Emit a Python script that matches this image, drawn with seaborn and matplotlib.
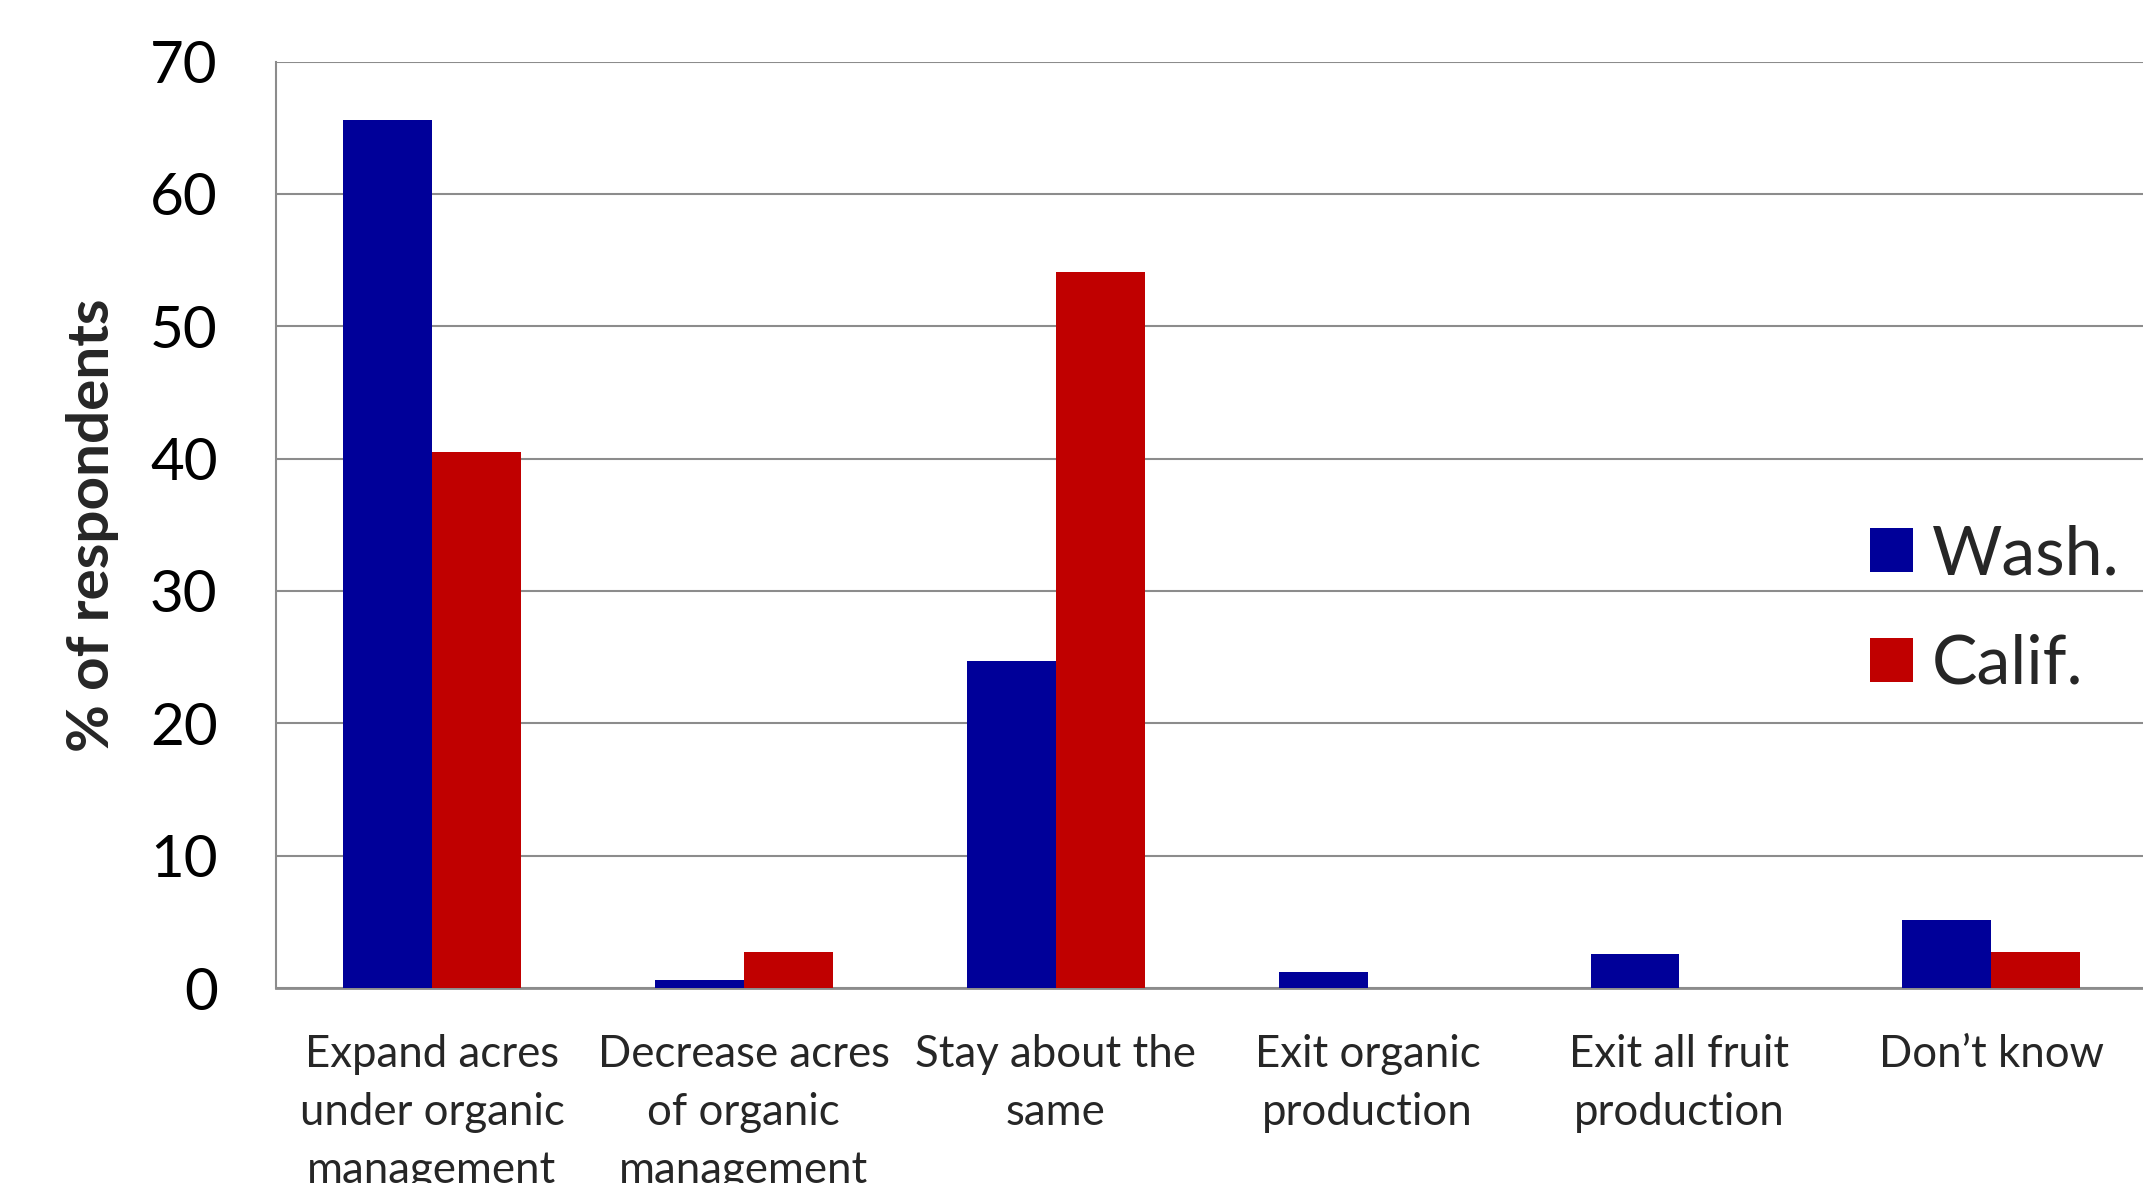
import matplotlib
matplotlib.use("Agg")
import matplotlib.pyplot as plt
from matplotlib.ticker import FixedLocator, MultipleLocator
from matplotlib.patches import Patch
import seaborn as sns
import pandas as pd

categories = [
    "Expand acres\nunder organic\nmanagement",
    "Decrease acres\nof organic\nmanagement",
    "Stay about the\nsame",
    "Exit organic\nproduction",
    "Exit all fruit\nproduction",
    "Don\u2019t know",
]
wash = [65.6, 0.6, 24.7, 1.2, 2.6, 5.1]
calif = [40.5, 2.7, 54.1, 0.0, 0.0, 2.7]
series = ["Wash.", "Calif."]
colors = {"Wash.": "#000099", "Calif.": "#C00000"}

df = pd.DataFrame({
    "category": categories * 2,
    "state": ["Wash."] * len(categories) + ["Calif."] * len(categories),
    "pct": wash + calif,
})

sns.set_style("white")
plt.rcParams["font.family"] = ["Lato", "DejaVu Sans"]

fig = plt.figure(figsize=(21.43, 11.83), dpi=100)
ax = fig.add_axes([276 / 2143, 1 - 988 / 1183, 1 - 276 / 2143 + 0.002, (988 - 61.5) / 1183])

sns.barplot(data=df, x="category", y="pct", hue="state", order=categories,
            hue_order=series, palette=colors, width=0.57, saturation=1,
            linewidth=0, ax=ax, legend=False, zorder=3)

grid_c = "#8c8c8c"
ax.set_ylim(0, 70)
ax.set_xlim(-0.5, len(categories) - 0.5)
ax.yaxis.set_major_locator(MultipleLocator(10))
ax.grid(axis="y", color=grid_c, linewidth=1.5, zorder=0)
ax.set_axisbelow(True)

for s in ["top", "right"]:
    ax.spines[s].set_visible(False)
ax.spines["left"].set_color(grid_c)
ax.spines["left"].set_linewidth(1.5)
ax.spines["bottom"].set_color(grid_c)
ax.spines["bottom"].set_linewidth(2)

ax.tick_params(axis="y", length=14, width=1.5, color=grid_c, pad=28,
               labelsize=42, labelcolor="black")
ax.tick_params(axis="x", which="major", length=0, pad=33, labelsize=31.5)
ax.xaxis.set_minor_locator(FixedLocator([i - 0.5 for i in range(len(categories) + 1)]))
ax.tick_params(axis="x", which="minor", length=12, width=1.5, color=grid_c)
for lbl in ax.get_xticklabels():
    lbl.set_linespacing(1.52)
    lbl.set_verticalalignment("top")

ax.set_xlabel("")
ax.set_ylabel("% of respondents", fontsize=42, fontweight="bold", labelpad=22)

handles = [Patch(facecolor=colors[s], edgecolor="none") for s in series]
ax.legend(handles, series, loc="center left", bbox_to_anchor=(0.852, 0.408),
          frameon=False, fontsize=49, handlelength=0.62, handleheight=0.62,
          handletextpad=0.28, labelspacing=0.7, borderpad=0, borderaxespad=0)

fig.savefig("out.png", dpi=100)
